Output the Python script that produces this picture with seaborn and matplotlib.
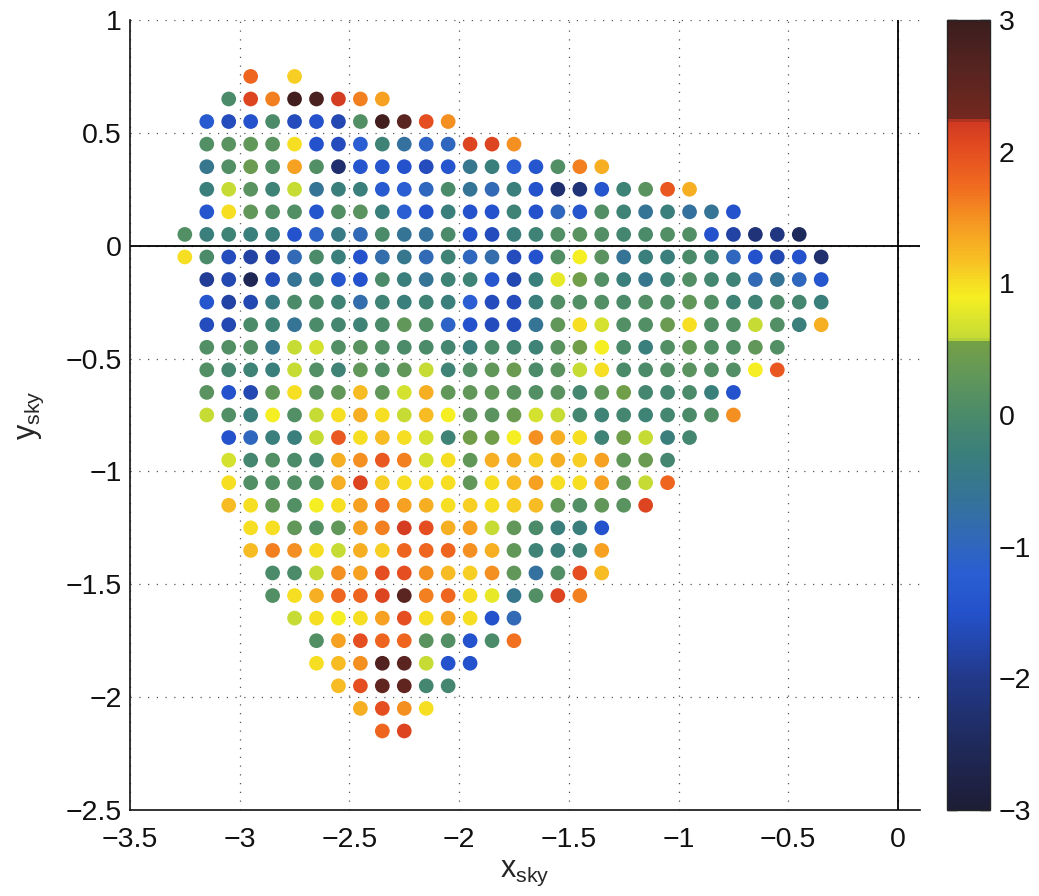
import numpy as np
import pandas as pd
import matplotlib
matplotlib.use("Agg")
import matplotlib.pyplot as plt
import seaborn as sns
from matplotlib.colors import LinearSegmentedColormap, Normalize
from matplotlib.cm import ScalarMappable

# Sky-plane sampling grid: rows of y_sky, each row starts at row_x0 and steps by dx
dx = 0.1
row_y = [0.75, 0.65, 0.55, 0.45, 0.35, 0.25, 0.15, 0.05, -0.05, -0.15,
         -0.25, -0.35, -0.45, -0.55, -0.65, -0.75, -0.85, -0.95, -1.05, -1.15,
         -1.25, -1.35, -1.45, -1.55, -1.65, -1.75, -1.85, -1.95, -2.05, -2.15]
row_x0 = [-2.95, -3.05, -3.15, -3.15, -3.15, -3.15, -3.15, -3.25, -3.25, -3.15,
          -3.15, -3.15, -3.15, -3.15, -3.15, -3.15, -3.05, -3.05, -3.05, -3.05,
          -2.95, -2.95, -2.85, -2.85, -2.75, -2.65, -2.65, -2.55, -2.45, -2.35]

# Residual value at each grid point (None = no sample)
v_p075 = [1.8, None, 1.1]
v_p065 = [0.0, 2.1, 1.6, 2.9, 2.8, 2.2, 1.6, 1.4]
v_p055 = [-1.3, -1.6, -1.5, 0.0, -1.6, -1.5, -1.7, 0.1, 2.9, 2.6, 2.0, 1.5]
v_p045 = [0.1, 0.2, 0.3, 0.2, 1.0, -1.5, -1.6, -1.2, -0.2, -0.7, -1.1, -1.0, 2.1, 2.1, 1.5]
v_p035 = [-0.5, 0.1, 0.4, 0.1, 1.4, 0.1, -2.3, -1.4, -1.4, -1.5, -1.6, -1.4, -0.5, -0.3,
          -1.2, -1.4, 0.1, 1.6, 1.3]
v_p025 = [-0.3, 0.6, 0.2, -0.2, 0.6, -0.6, -0.3, -0.3, -1.3, -1.2, -1.0, 0.0, -0.6, -0.9,
          -0.3, -1.5, -2.3, -2.2, -1.4, -0.2, 0.2, 1.9, 1.3]
v_p015 = [-1.4, 1.0, 0.3, 0.1, 0.1, -1.4, 0.1, 0.2, -0.3, -1.2, -1.5, -0.3, -1.5, -1.5,
          -0.2, -1.5, -1.0, -1.4, 0.1, -0.2, -0.6, -0.3, -0.7, -0.6, -1.5]
v_p005 = [0.1, -0.3, -0.2, -0.3, -0.3, -1.5, -1.1, -0.4, -0.9, 0.0, -0.6, -0.7, 0.0, -1.5,
          -1.6, -0.3, -0.2, 0.1, 0.2, 0.1, -0.1, 0.0, 0.1, 0.1, -1.5, -1.8, -2.2, -2.1, -2.5]
v_m005 = [1.0, 0.0, -1.6, -1.8, -1.7, -0.9, 0.0, -0.3, -1.5, -0.8, -0.5, -0.9, -0.2, -1.0,
          -0.8, -1.6, -1.5, 0.1, 0.9, 0.2, -0.6, -0.3, -0.3, 0.0, -0.2, -1.0, -1.5, -1.7,
          -1.5, -2.3]
v_m015 = [-1.9, -1.7, -2.6, -1.6, -0.6, -0.3, -1.4, -1.5, 0.0, -0.3, -0.6, -0.2, -0.2, -1.4,
          -1.7, -0.3, 0.8, 0.5, 0.1, -0.3, -0.5, -0.2, 0.1, -0.1, -0.2, -0.9, -0.6, -1.0, -1.4]
v_m025 = [-1.4, -1.8, -1.7, -0.4, 0.0, 0.0, -0.2, -0.8, -0.2, -0.3, -0.2, -0.3, -1.2, -1.6,
          -1.6, -0.3, 0.1, 0.1, 0.1, 0.0, 0.1, 0.1, 0.3, 0.1, -0.2, -0.2, 0.0, -0.1, -0.3]
v_m035 = [-1.6, -1.7, 0.0, -0.2, -0.6, 0.0, -0.1, -0.2, 0.0, 0.3, 0.1, -1.1, -1.5, -1.6,
          -1.6, -0.6, 0.3, 1.0, 0.7, 0.1, 0.1, 0.4, 1.0, 0.1, 0.1, 0.6, 0.1, -0.3, 1.3]
v_m045 = [0.1, 0.1, 0.1, -0.5, 0.6, 0.7, 0.1, 0.2, 0.1, 0.0, 0.0, -0.1, -0.3, 0.0, -0.1,
          -0.2, 0.2, 0.5, 0.9, 0.0, -0.3, 0.1, 0.3, 0.1, 0.1, 0.3, 0.1]
v_m055 = [0.1, -0.1, -0.2, -0.3, 0.6, 0.1, -0.2, 0.3, 0.1, 0.3, 0.6, -0.2, 0.1, 0.3, 0.4,
          0.0, 0.2, 0.6, 1.0, 0.0, 0.0, 0.1, 0.2, 0.1, 0.1, 0.9, 1.9]
v_m065 = [0.2, -1.5, -1.7, 0.3, 1.0, 0.2, 0.3, 1.2, 0.3, 0.7, 1.3, 0.3, 0.3, 0.3, 0.2, 0.1,
          0.2, -0.1, 0.3, 0.5, -0.1, -0.1, 0.0, -0.3, -1.5]
v_m075 = [0.6, 0.1, -0.3, 0.9, 0.1, 0.6, 1.0, 1.3, 1.0, 0.6, 1.2, 0.9, 0.3, 0.2, 0.4, 0.7,
          0.6, -0.1, -0.2, -0.1, -0.2, -0.1, 0.0, 0.1, 1.5]
v_m085 = [-1.5, -1.0, -0.3, -0.3, 0.6, 1.9, 1.0, 1.2, 1.0, 0.7, -0.2, 0.5, 0.5, 0.9, 1.5,
          1.3, 1.0, -0.2, 0.5, 0.6, -0.3, -0.1]
v_m095 = [0.7, -0.1, 0.1, 0.0, -0.1, 1.3, 1.5, 1.9, 1.6, 0.7, 1.0, 0.3, 1.3, 1.3, 1.1, 1.3,
          1.1, 1.4, 0.3, 0.4, -0.1]
v_m105 = [1.0, 0.1, 0.1, 0.1, 0.1, 1.3, 2.1, 1.1, 1.0, 1.0, 1.0, 0.3, 1.0, 1.2, 1.4, 1.0,
          1.0, 1.4, 0.3, 0.6, 1.8]
v_m115 = [1.2, 1.0, 0.3, 0.1, 0.9, 1.0, 1.4, 1.7, 1.4, 1.3, 1.0, 1.1, 1.0, 1.1, 1.2, 0.3,
          0.1, 0.3, 0.2, 2.1]
v_m125 = [1.0, 1.0, 0.3, 0.1, 0.3, 1.4, 1.6, 2.2, 2.0, 1.3, 1.4, 0.6, 0.3, 0.0, -0.3, -0.3, -1.5]
v_m135 = [1.2, 1.6, 1.5, 1.0, 0.6, 1.3, 1.1, 1.8, 1.8, 1.8, 1.5, 1.3, 0.3, -0.2, -0.3, -0.2, 1.4]
v_m145 = [0.0, 0.0, 0.6, 1.5, 1.4, 2.0, 2.0, 1.5, 1.2, 1.1, 1.5, 0.3, -0.7, 0.1, 2.0, 1.2]
v_m155 = [0.1, 1.0, 1.3, 1.8, 1.8, 2.1, 2.6, 1.6, 1.8, 1.0, 0.8, -0.5, 0.1, 2.1, 1.6]
v_m165 = [0.6, 1.0, 0.9, 1.0, 1.4, 2.0, 1.0, 1.4, 1.0, -1.5, -0.9]
v_m175 = [0.1, 1.4, 2.0, 1.8, 1.8, 0.2, 0.1, -1.5, 0.0, 1.7]
v_m185 = [1.0, 1.2, 1.5, 2.7, 2.6, 0.6, -1.5, -1.5]
v_m195 = [1.2, 2.0, 2.5, 2.5, -0.1, -0.1]
v_m205 = [1.3, 2.0, 1.5, 1.0]
v_m215 = [1.8, 2.1]

row_values = [v_p075, v_p065, v_p055, v_p045, v_p035, v_p025, v_p015, v_p005,
              v_m005, v_m015, v_m025, v_m035, v_m045, v_m055, v_m065, v_m075,
              v_m085, v_m095, v_m105, v_m115, v_m125, v_m135, v_m145, v_m155,
              v_m165, v_m175, v_m185, v_m195, v_m205, v_m215]

# Colour scale nodes (value -> colour); doubled nodes give the hard steps
cmap_levels = [-3.0, -2.5, -2.0, -1.5, -1.2, -0.9, -0.6, -0.3, 0.0, 0.3, 0.56, 0.58,
               0.9, 1.15, 1.45, 1.75, 2.05, 2.24, 2.26, 2.6, 3.0]
cmap_colors = ['#1d1d36', '#1f2a5c', '#22398a', '#2452cc', '#2a5ed2', '#326ab4',
               '#367495', '#3a7f7c', '#4a8a6a', '#62975a', '#74a044', '#c4da36',
               '#f5ef22', '#f8c424', '#f59a22', '#f06a20', '#e24a20', '#d03a22',
               '#74281f', '#5a2420', '#3a1e1e']

x_ticks = [-3.5, -3.0, -2.5, -2.0, -1.5, -1.0, -0.5, 0.0]
x_ticklabels = ['\u22123.5', '\u22123', '\u22122.5', '\u22122', '\u22121.5', '\u22121', '\u22120.5', '0']
y_ticks = [1.0, 0.5, 0.0, -0.5, -1.0, -1.5, -2.0, -2.5]
y_ticklabels = ['1', '0.5', '0', '\u22120.5', '\u22121', '\u22121.5', '\u22122', '\u22122.5']
cb_ticks = [3, 2, 1, 0, -1, -2, -3]
cb_ticklabels = ['3', '2', '1', '0', '\u22121', '\u22122', '\u22123']

# Long-form table of samples
records = []
for y, x0, vals in zip(row_y, row_x0, row_values):
    for i, v in enumerate(vals):
        if v is None:
            continue
        records.append({'x_sky': round(x0 + i * dx, 2), 'y_sky': y, 'value': v})
df = pd.DataFrame(records)

sns.set_style('white')
plt.rcParams['font.family'] = ['Liberation Sans', 'DejaVu Sans']
plt.rcParams['mathtext.fontset'] = 'custom'
plt.rcParams['mathtext.rm'] = 'Liberation Sans'
plt.rcParams['mathtext.it'] = 'Liberation Sans'
plt.rcParams['axes.unicode_minus'] = True

vmin, vmax = -3.0, 3.0
cmap = LinearSegmentedColormap.from_list(
    'resid', [((l - vmin) / (vmax - vmin), c) for l, c in zip(cmap_levels, cmap_colors)], N=256)
norm = Normalize(vmin=vmin, vmax=vmax)

fig = plt.figure(figsize=(10.39, 8.96), dpi=100)
ax = fig.add_axes([0.1251, 0.096, 0.7603, 0.8817])
cax = fig.add_axes([0.9115, 0.096, 0.0414, 0.8817])

grid_kw = dict(color='#555555', linewidth=0.9, linestyle=(0, (1, 6)), zorder=0)
for xt in x_ticks:
    ax.axvline(xt, **grid_kw)
for yt in y_ticks:
    ax.axhline(yt, **grid_kw)

sns.scatterplot(data=df, x='x_sky', y='y_sky', hue='value', palette=cmap,
                hue_norm=norm, s=112, linewidth=0, legend=False, ax=ax, zorder=3)

ax.axhline(0, color='black', linewidth=1.3, zorder=2)
ax.axvline(0, color='black', linewidth=1.3, zorder=2)

ax.set_xlim(-3.5, 0.1)
ax.set_ylim(-2.5, 1.0)
ax.set_xticks(x_ticks)
ax.set_xticklabels(x_ticklabels)
ax.set_yticks(y_ticks)
ax.set_yticklabels(y_ticklabels)
ax.tick_params(axis='both', direction='in', length=7, width=1, labelsize=20.5,
               colors='#111111')
ax.tick_params(axis='x', pad=12)
ax.tick_params(axis='y', pad=6)
for side in ['top', 'right']:
    ax.spines[side].set_visible(False)
for side in ['left', 'bottom']:
    ax.spines[side].set_color('#111111')
    ax.spines[side].set_linewidth(1.2)

ax.set_xlabel(r'$\mathrm{x_{sky}}$', fontsize=22, labelpad=4)
ax.set_ylabel(r'$\mathrm{y_{sky}}$', fontsize=22, labelpad=14)

sm = ScalarMappable(norm=norm, cmap=cmap)
cb = fig.colorbar(sm, cax=cax)
cb.set_ticks(cb_ticks)
cb.set_ticklabels(cb_ticklabels)
cb.outline.set_linewidth(1.0)
cax.tick_params(direction='in', length=7, width=1, labelsize=20.5, left=True, right=True,
                colors='#111111', pad=6)

fig.savefig('out.png', dpi=100)
